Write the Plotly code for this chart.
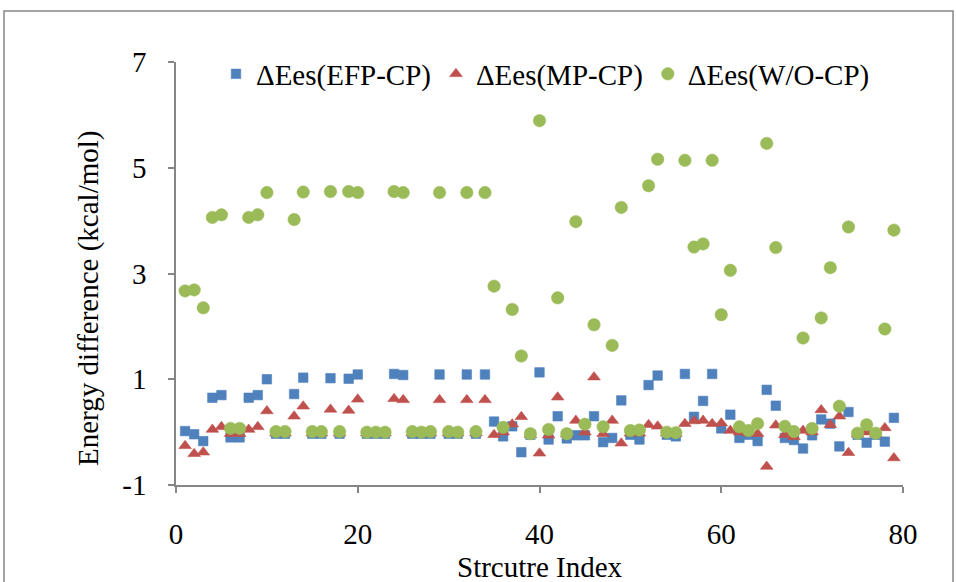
import plotly.graph_objects as go

structure_index = list(range(1, 80))

efp_cp = [0.02, -0.04, -0.17, 0.65, 0.70, -0.10, -0.10, 0.65, 0.70, 1.00,
          -0.03, -0.03, 0.72, 1.03, -0.03, -0.03, 1.02, -0.03, 1.01, 1.09,
          -0.03, -0.03, -0.03, 1.10, 1.08, -0.03, -0.03, -0.03, 1.09, -0.03,
          -0.03, 1.09, -0.03, 1.09, 0.20, -0.08, 0.11, -0.38, -0.05, 1.13,
          -0.14, 0.30, -0.12, -0.06, -0.06, 0.30, -0.19, -0.11, 0.60, -0.05,
          -0.14, 0.89, 1.07, -0.05, -0.08, 1.10, 0.29, 0.59, 1.10, 0.07,
          0.33, -0.11, -0.05, -0.17, 0.80, 0.50, -0.11, -0.15, -0.31, -0.06,
          0.24, 0.16, -0.27, 0.38, -0.05, -0.20, -0.05, -0.18, 0.27]

mp_cp = [-0.26, -0.41, -0.38, 0.05, 0.10, -0.03, -0.03, 0.05, 0.10, 0.40,
         -0.02, -0.02, 0.30, 0.49, -0.02, -0.02, 0.43, -0.02, 0.41, 0.62,
         -0.02, -0.02, -0.02, 0.63, 0.61, -0.02, -0.02, -0.02, 0.61, -0.02,
         -0.02, 0.61, -0.02, 0.61, -0.05, 0.00, 0.15, 0.29, -0.05, -0.40,
         -0.06, 0.66, -0.04, 0.22, 0.00, 1.04, -0.03, 0.22, -0.21, -0.02,
         -0.02, 0.14, 0.11, -0.02, -0.03, 0.16, 0.21, 0.22, 0.16, 0.17,
         0.03, 0.00, -0.02, -0.03, -0.65, 0.13, -0.05, -0.09, 0.03, 0.00,
         0.42, 0.14, 0.30, -0.39, -0.04, 0.00, -0.04, 0.08, -0.49]

wo_cp = [2.67, 2.69, 2.35, 4.06, 4.11, 0.07, 0.07, 4.06, 4.11, 4.53,
         0.01, 0.01, 4.02, 4.54, 0.01, 0.01, 4.55, 0.01, 4.55, 4.53,
         0.00, 0.00, 0.00, 4.55, 4.53, 0.01, 0.00, 0.01, 4.53, 0.01,
         0.00, 4.53, 0.01, 4.53, 2.76, 0.09, 2.32, 1.44, -0.03, 5.89,
         0.05, 2.54, -0.03, 3.98, 0.15, 2.03, 0.10, 1.64, 4.25, 0.03,
         0.04, 4.66, 5.16, 0.00, -0.01, 5.14, 3.50, 3.56, 5.14, 2.22,
         3.06, 0.10, 0.03, 0.16, 5.46, 3.49, 0.11, 0.01, 1.78, 0.07,
         2.16, 3.11, 0.49, 3.88, -0.02, 0.14, -0.02, 1.95, 3.82]

series_names = ["ΔEes(EFP-CP)", "ΔEes(MP-CP)", "ΔEes(W/O-CP)"]
x_ticks = [0, 20, 40, 60, 80]
y_ticks = [-1, 1, 3, 5, 7]
y_tick_labels = ["-1", "1", "3", "5", "7"]

FONT = "Liberation Serif"
FS = 29
AXIS_COLOR = "#868686"

fig = go.Figure()
fig.add_trace(go.Scatter(x=structure_index, y=efp_cp, mode="markers", name=series_names[0],
                         marker=dict(symbol="square", size=9.5, color="#4F81BD",
                                     line=dict(width=0.6, color="#4F81BD"))))
fig.add_trace(go.Scatter(x=structure_index, y=mp_cp, mode="markers", name=series_names[1],
                         marker=dict(symbol="triangle-up", size=11, color="#C0504D",
                                     line=dict(width=0.6, color="#C0504D"))))
fig.add_trace(go.Scatter(x=structure_index, y=wo_cp, mode="markers", name=series_names[2],
                         marker=dict(symbol="circle", size=12.5, color="#9BBB59",
                                     line=dict(width=0.5, color="#9BBB59"))))

W, H = 956, 582
L, R, T, B = 176, 53, 62, 97
pw, ph = W - L - R, H - T - B

def px_x(p):
    return (p - L) / pw

def px_y(p):
    return (H - B - p) / ph

fig.update_layout(
    width=W, height=H,
    margin=dict(l=L, r=R, t=T, b=B, pad=0),
    paper_bgcolor="white", plot_bgcolor="white",
    font=dict(family=FONT, size=FS, color="black"),
    showlegend=True,
    legend=dict(orientation="h", x=px_x(216), xanchor="left", y=px_y(74), yanchor="middle",
                bgcolor="rgba(0,0,0,0)", font=dict(family=FONT, size=FS, color="black"),
                itemclick=False),
    xaxis=dict(range=[0, 80], tickvals=x_ticks, showgrid=False, zeroline=False,
               showline=True, linecolor=AXIS_COLOR, linewidth=1.5,
               ticks="outside", ticklen=6, tickcolor=AXIS_COLOR, tickwidth=1.5,
               tickfont=dict(family=FONT, size=FS, color="black"), ticklabelstandoff=16),
    yaxis=dict(range=[-1, 7], tickvals=y_ticks, ticktext=y_tick_labels,
               showgrid=False, zeroline=False,
               showline=True, linecolor=AXIS_COLOR, linewidth=1.5,
               ticks="outside", ticklen=6, tickcolor=AXIS_COLOR, tickwidth=1.5,
               tickfont=dict(family=FONT, size=FS, color="black"), ticklabelstandoff=16),
    annotations=[
        dict(text="Energy difference (kcal/mol)", xref="paper", yref="paper",
             x=px_x(88), y=px_y(298), textangle=-90, showarrow=False,
             xanchor="center", yanchor="middle", font=dict(family=FONT, size=FS, color="black")),
        dict(text="Strcutre Index", xref="paper", yref="paper",
             x=px_x(540), y=px_y(567), showarrow=False,
             xanchor="center", yanchor="middle", font=dict(family=FONT, size=FS, color="black")),
    ],
    shapes=[
        dict(type="rect", xref="paper", yref="paper",
             x0=px_x(4), x1=px_x(953), y0=px_y(620), y1=px_y(11),
             line=dict(color=AXIS_COLOR, width=1.5), fillcolor="rgba(0,0,0,0)", layer="below"),
    ],
)

fig.write_html("out.html")
